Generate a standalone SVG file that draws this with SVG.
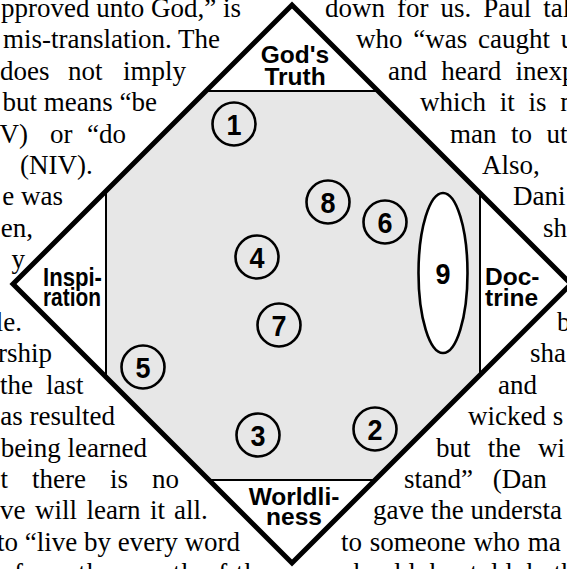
<svg xmlns="http://www.w3.org/2000/svg" width="567" height="569" viewBox="0 0 567 569">
<style>
.t{font-family:"Liberation Serif","Times New Roman",serif;font-size:27px;fill:#000}
.e{text-anchor:end}
.lbl{font-family:"Liberation Sans",Arial,sans-serif;font-weight:bold;font-size:24.5px;fill:#000}
.c{text-anchor:middle}
.ring{fill:none;stroke:#000;stroke-width:2.6}
.num{font-family:"Liberation Sans",Arial,sans-serif;font-weight:bold;font-size:29px;text-anchor:middle;fill:#000}
</style>
<rect x="0" y="0" width="567" height="569" fill="#fff"/>
<g id="body-text">
<text class="t" x="1" y="17">pproved unto God,” is</text>
<text class="t e" x="220" y="48.4">mis-translation. The</text>
<text class="t" y="79.8"><tspan x="0">does</tspan><tspan x="68">not</tspan><tspan x="123">imply</tspan></text>
<text class="t e" x="157" y="111.2">but means “be</text>
<text class="t" y="142.6"><tspan x="-59">(NKJV)</tspan><tspan x="50">or</tspan><tspan x="87">“do</tspan></text>
<text class="t" x="20" y="174">(NIV).</text>
<text class="t e" x="63" y="205.4">e was</text>
<text class="t e" x="33" y="236.8">en,</text>
<text class="t e" x="25" y="268.2">y</text>
<text class="t e" x="22" y="331">le.</text>
<text class="t e" x="52" y="362.4">rship</text>
<text class="t" y="393.8"><tspan x="0">the</tspan><tspan x="46">last</tspan></text>
<text class="t e" x="115" y="425.2">as resulted</text>
<text class="t e" x="147" y="456.6">being learned</text>
<text class="t" y="488"><tspan x="0.5">t</tspan><tspan x="32">there</tspan><tspan x="110">is</tspan><tspan x="152">no</tspan></text>
<text class="t" y="519.4"><tspan x="0">ve</tspan><tspan x="35">will</tspan><tspan x="86.5">learn</tspan><tspan x="150">it</tspan><tspan x="174">all.</tspan></text>
<text class="t e" x="240" y="550.8">to “live by every word</text>
<text class="t" x="14" y="582.2" textLength="257" lengthAdjust="spacing">from the mouth of the</text>

<text class="t" x="325" y="17" word-spacing="5.25">down for us. Paul tal</text>
<text class="t" x="356" y="48.4" word-spacing="4">who “was caught u</text>
<text class="t" x="388" y="79.8" word-spacing="7.5">and heard inexp</text>
<text class="t" x="420" y="111.2" word-spacing="7">which it is n</text>
<text class="t" x="450" y="142.6" word-spacing="7.75">man to ut</text>
<text class="t" x="482" y="174">Also,</text>
<text class="t" x="513" y="205.4">Dani</text>
<text class="t" x="543" y="236.8">sh</text>
<text class="t" x="557" y="331">b</text>
<text class="t" x="530" y="362.4">sha</text>
<text class="t" x="498" y="393.8">and</text>
<text class="t" x="468" y="425.2">wicked s</text>
<text class="t" x="436" y="456.6" word-spacing="10.5">but the wi</text>
<text class="t" x="404" y="488" word-spacing="13">stand” (Dan</text>
<text class="t" x="373" y="519.4">gave the understa</text>
<text class="t" x="341" y="550.8" word-spacing="1">to someone who ma</text>
<text class="t" x="343" y="582.2" word-spacing="8">should be told both the</text>
</g>
<g id="diamond">
<polygon points="292,5 571,284 292,563 13,284" fill="#fff"/>
<polygon points="206,91 378,91 480,193 480,375 375,480 209,480 106,377 106,191" fill="#e7e7e7" stroke="#000" stroke-width="2"/>
<polygon points="292,5 571,284 292,563 13,284" fill="none" stroke="#000" stroke-width="5" stroke-linejoin="miter"/>
</g>
<g id="gods-truth">
<text class="lbl c" x="295" y="63">God's</text>
<text class="lbl c" x="295" y="85">Truth</text>
</g>
<g id="inspiration">
<text class="lbl" x="43" y="286" style="font-size:26px" textLength="59" lengthAdjust="spacingAndGlyphs">Inspi-</text>
<text class="lbl" x="43" y="306" style="font-size:26px" textLength="58" lengthAdjust="spacingAndGlyphs">ration</text>
</g>
<g id="doctrine">
<text class="lbl" x="485" y="285">Doc-</text>
<text class="lbl" x="485" y="306">trine</text>
</g>
<g id="worldliness">
<text class="lbl c" x="294" y="505">Worldli-</text>
<text class="lbl c" x="294" y="525">ness</text>
</g>
<g id="connectors"></g>
<g id="n1"><circle class="ring" cx="234" cy="124" r="21.5"/><text class="num" x="234" y="134.5" textLength="15" lengthAdjust="spacingAndGlyphs">1</text></g>
<g id="n2"><circle class="ring" cx="375" cy="429" r="21.5"/><text class="num" x="375" y="439.5" textLength="15" lengthAdjust="spacingAndGlyphs">2</text></g>
<g id="n3"><circle class="ring" cx="258" cy="435" r="21.5"/><text class="num" x="258" y="445.5" textLength="15" lengthAdjust="spacingAndGlyphs">3</text></g>
<g id="n4"><circle class="ring" cx="257" cy="257" r="21.5"/><text class="num" x="257" y="267.5" textLength="15" lengthAdjust="spacingAndGlyphs">4</text></g>
<g id="n5"><circle class="ring" cx="143" cy="367" r="21.5"/><text class="num" x="143" y="377.5" textLength="15" lengthAdjust="spacingAndGlyphs">5</text></g>
<g id="n6"><circle class="ring" cx="385" cy="222" r="21.5"/><text class="num" x="385" y="232.5" textLength="15" lengthAdjust="spacingAndGlyphs">6</text></g>
<g id="n7"><circle class="ring" cx="279" cy="325" r="21.5"/><text class="num" x="279" y="335.5" textLength="15" lengthAdjust="spacingAndGlyphs">7</text></g>
<g id="n8"><circle class="ring" cx="328" cy="202" r="21.5"/><text class="num" x="328" y="212.5" textLength="15" lengthAdjust="spacingAndGlyphs">8</text></g>
<g id="n9"><ellipse cx="443" cy="273" rx="24.5" ry="80" fill="#fff" stroke="#000" stroke-width="2.6"/><text class="num" x="443" y="283.5" textLength="15" lengthAdjust="spacingAndGlyphs">9</text></g>
</svg>
